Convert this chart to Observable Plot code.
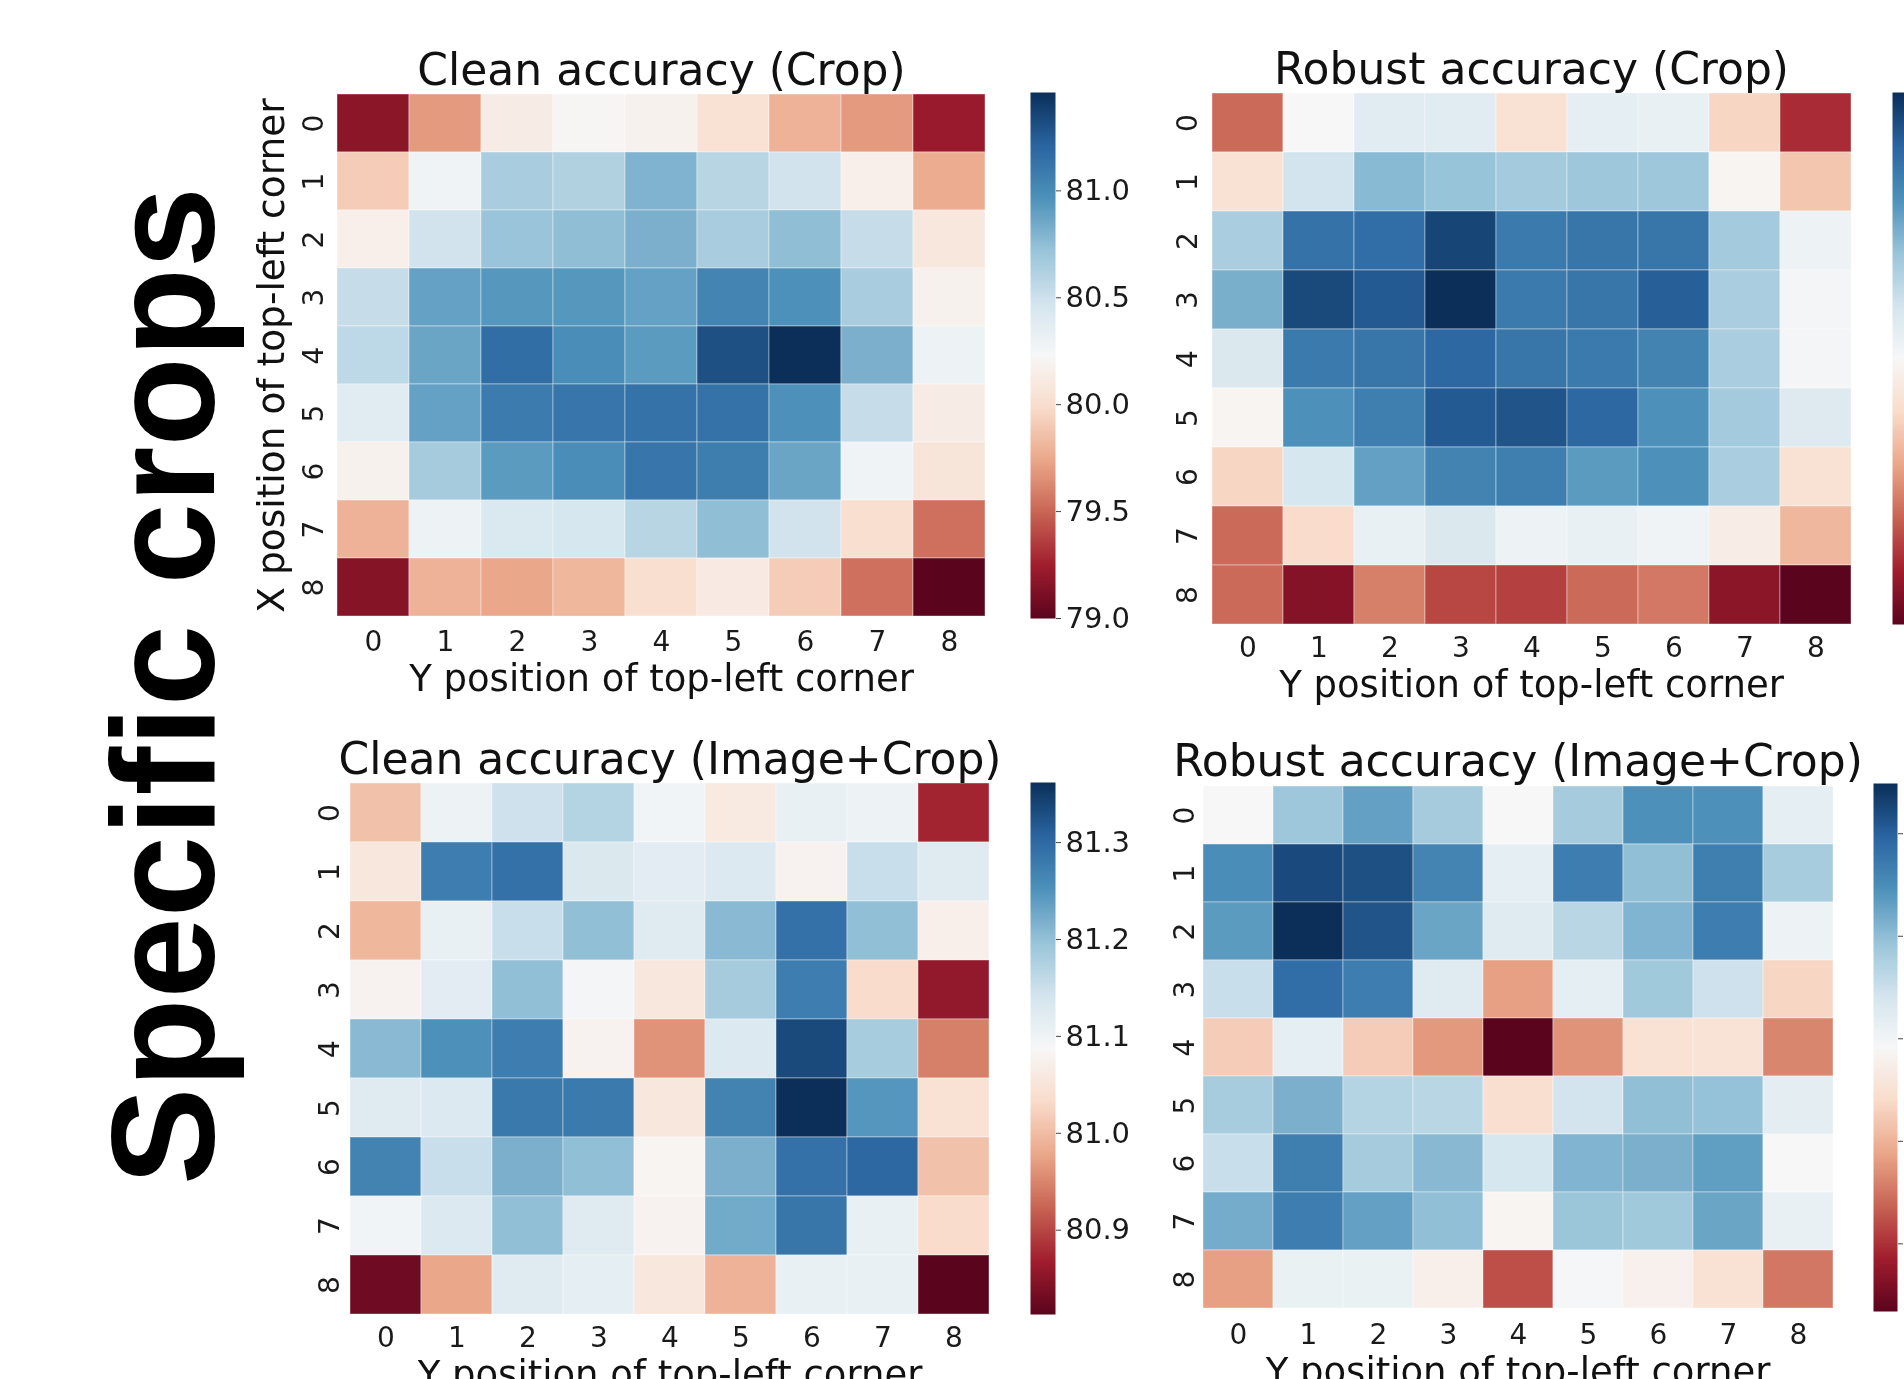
<!DOCTYPE html>
<html>
<head>
<meta charset="utf-8">
<script src="https://cdn.jsdelivr.net/npm/d3@7"></script>
<script src="https://cdn.jsdelivr.net/npm/@observablehq/plot@0.6"></script>
<style>
  body { margin: 0; background: #fff; }
  #fig { position: relative; width: 1904px; height: 1379px; overflow: hidden; background: #fff; }
  #fig > svg { position: absolute; overflow: visible; }
  #fig > svg.tinted { filter: saturate(0.85); }
</style>
</head>
<body>
<div id="fig"></div>
<script>
// ---------------- data ----------------
const positions = [0, 1, 2, 3, 4, 5, 6, 7, 8];
const sideLabel = "Specific crops";
const xLabel = "Y position of top-left corner";
const yLabel = "X position of top-left corner";

// rows = X position (0..8, top to bottom), columns = Y position (0..8, left to right)
const cleanCrop = [
  [79.17, 79.69, 80.13, 80.21, 80.18, 80.03, 79.79, 79.69, 79.22],
  [79.91, 80.28, 80.65, 80.62, 80.80, 80.59, 80.48, 80.16, 79.76],
  [80.16, 80.48, 80.72, 80.75, 80.82, 80.65, 80.75, 80.53, 80.08],
  [80.53, 80.89, 80.94, 80.94, 80.89, 81.04, 80.97, 80.65, 80.18],
  [80.57, 80.87, 81.16, 80.99, 80.92, 81.31, 81.46, 80.82, 80.30],
  [80.38, 80.89, 81.09, 81.12, 81.14, 81.14, 80.97, 80.53, 80.13],
  [80.18, 80.67, 80.92, 80.99, 81.12, 81.07, 80.87, 80.28, 80.06],
  [79.79, 80.30, 80.43, 80.45, 80.59, 80.75, 80.48, 80.01, 79.54],
  [79.15, 79.79, 79.74, 79.81, 80.01, 80.11, 79.91, 79.54, 79.00]
];
const robustCrop = [
  [49.71, 50.00, 50.06, 50.06, 49.92, 50.05, 50.04, 49.89, 49.62],
  [49.92, 50.10, 50.22, 50.20, 50.18, 50.19, 50.19, 49.99, 49.86],
  [50.17, 50.37, 50.38, 50.46, 50.35, 50.36, 50.36, 50.18, 50.03],
  [50.24, 50.45, 50.42, 50.50, 50.35, 50.36, 50.41, 50.17, 50.01],
  [50.08, 50.35, 50.36, 50.39, 50.36, 50.35, 50.33, 50.17, 50.01],
  [49.99, 50.30, 50.34, 50.42, 50.43, 50.39, 50.30, 50.18, 50.07],
  [49.89, 50.09, 50.27, 50.33, 50.34, 50.28, 50.30, 50.17, 49.92],
  [49.71, 49.90, 50.04, 50.08, 50.03, 50.04, 50.02, 49.96, 49.83],
  [49.71, 49.56, 49.74, 49.66, 49.65, 49.71, 49.73, 49.57, 49.50]
];
const cleanImageCrop = [
  [81.005, 81.104, 81.148, 81.170, 81.098, 81.060, 81.109, 81.104, 80.873],
  [81.055, 81.277, 81.291, 81.131, 81.120, 81.129, 81.077, 81.153, 81.123],
  [80.994, 81.109, 81.153, 81.203, 81.123, 81.208, 81.291, 81.203, 81.071],
  [81.077, 81.120, 81.203, 81.093, 81.055, 81.186, 81.277, 81.033, 80.857],
  [81.208, 81.252, 81.277, 81.077, 80.961, 81.129, 81.335, 81.184, 80.945],
  [81.123, 81.129, 81.282, 81.280, 81.055, 81.269, 81.362, 81.247, 81.044],
  [81.269, 81.153, 81.219, 81.203, 81.082, 81.219, 81.291, 81.302, 81.005],
  [81.098, 81.129, 81.203, 81.123, 81.077, 81.225, 81.285, 81.109, 81.033],
  [80.829, 80.978, 81.123, 81.115, 81.055, 80.989, 81.109, 81.109, 80.813]
];
const robustImageCrop = [
  [49.792, 49.889, 49.931, 49.884, 49.792, 49.884, 49.946, 49.946, 49.817],
  [49.951, 50.023, 50.018, 49.961, 49.817, 49.969, 49.900, 49.967, 49.882],
  [49.936, 50.049, 50.013, 49.925, 49.825, 49.866, 49.910, 49.969, 49.807],
  [49.853, 49.987, 49.969, 49.825, 49.683, 49.817, 49.887, 49.848, 49.735],
  [49.725, 49.817, 49.725, 49.678, 49.534, 49.673, 49.750, 49.753, 49.663],
  [49.882, 49.915, 49.869, 49.866, 49.745, 49.843, 49.900, 49.897, 49.820],
  [49.853, 49.967, 49.884, 49.905, 49.838, 49.910, 49.915, 49.933, 49.792],
  [49.918, 49.969, 49.931, 49.900, 49.786, 49.892, 49.887, 49.925, 49.812],
  [49.683, 49.810, 49.810, 49.776, 49.622, 49.794, 49.779, 49.750, 49.652]
];

// colour-bar ranges and ticks
const cleanCropDomain = [79.0, 81.46];
const cleanCropTicks = [79.0, 79.5, 80.0, 80.5, 81.0];
const robustCropDomain = [49.5, 50.5];
const robustCropTicks = [49.6, 49.8, 50.0, 50.2, 50.4];
const cleanImageCropDomain = [80.813, 81.362];
const cleanImageCropTicks = [80.9, 81.0, 81.1, 81.2, 81.3];
const robustImageCropDomain = [49.534, 50.049];
const robustImageCropTicks = [49.6, 49.7, 49.8, 49.9, 50.0];

const titles = [
  "Clean accuracy (Crop)",
  "Robust accuracy (Crop)",
  "Clean accuracy (Image+Crop)",
  "Robust accuracy (Image+Crop)"
];

// matplotlib RdBu stops
const rdbu = ["#67001f", "#b2182b", "#d6604d", "#f4a582", "#fddbc7", "#f7f7f7",
              "#d1e5f0", "#92c5de", "#4393c3", "#2166ac", "#053061"];

// ---------------- drawing ----------------
const fig = document.getElementById("fig");
const FONT = "'DejaVu Sans', 'Bitstream Vera Sans', sans-serif";

function colorScale(domain) {
  const n = rdbu.length - 1;
  const stops = rdbu.map((_, i) => domain[0] + (domain[1] - domain[0]) * i / n);
  return {type: "linear", domain: stops, range: rdbu, interpolate: "rgb"};
}

function heatmap(cfg) {
  const [x0, y0, x1, y1] = cfg.frame;
  const mL = 110, mR = 20, mT = 70, mB = 110;
  const table = cfg.values.flatMap((row, r) => row.map((v, c) => ({row: r, col: c, value: v})));
  const marks = [
    Plot.cell(table, {x: "col", y: "row", fill: "value", inset: 0,
      stroke: "white", strokeWidth: 1, strokeOpacity: 0.4}),
    Plot.axisX(positions, {anchor: "bottom", tickSize: 0, tickPadding: 13, fontSize: 28, label: null, fill: "#1a1a1a"}),
    Plot.text(positions, {y: d => d, text: d => String(d), frameAnchor: "left", dx: -cfg.yTickGap,
      rotate: -90, textAnchor: "middle", lineAnchor: "bottom", fontSize: 28, fill: "#1a1a1a"}),
    Plot.text([cfg.title], {text: d => d, frameAnchor: "top", lineAnchor: "bottom", dy: -cfg.titleGap,
      fontSize: 44, fill: "#111"}),
    Plot.text([xLabel], {text: d => d, frameAnchor: "bottom", lineAnchor: "bottom", dy: 72,
      fontSize: 37, fill: "#111"})
  ];
  if (cfg.yLabel) {
    marks.push(Plot.text([cfg.yLabel], {text: d => d, frameAnchor: "left", rotate: -90,
      textAnchor: "middle", lineAnchor: "bottom", dx: -cfg.yLabelGap, fontSize: 37.5, fill: "#111"}));
  }
  const chart = Plot.plot({
    width: (x1 - x0) + mL + mR,
    height: (y1 - y0) + mT + mB,
    marginLeft: mL, marginRight: mR, marginTop: mT, marginBottom: mB,
    style: {fontFamily: FONT, background: "transparent", color: "#1a1a1a", overflow: "visible"},
    x: {domain: positions, padding: 0, axis: null},
    y: {domain: positions, padding: 0, axis: null},
    color: colorScale(cfg.domain),
    marks
  });
  chart.classList.add("tinted");
  chart.style.left = (x0 - mL) + "px";
  chart.style.top = (y0 - mT) + "px";
  chart.style.maxWidth = "none";
  fig.append(chart);
}

function colorbar(cfg) {
  const [x0, y0, x1, y1] = cfg.bar;
  const mT = 20, mB = 20, mR = 100;
  const chart = Plot.plot({
    width: (x1 - x0) + mR,
    height: (y1 - y0) + mT + mB,
    marginLeft: 0, marginRight: mR, marginTop: mT, marginBottom: mB,
    style: {fontFamily: FONT, background: "transparent", color: "#1a1a1a", overflow: "visible"},
    x: {domain: [0, 1], axis: null},
    y: {domain: cfg.domain, axis: null},
    color: colorScale(cfg.domain),
    marks: [
      Plot.raster({x1: 0, x2: 1, y1: cfg.domain[0], y2: cfg.domain[1], fill: (x, y) => y, pixelSize: 1}),
      Plot.axisY(cfg.ticks, {anchor: "right", tickSize: 5, tickPadding: 5, tickFormat: ".1f",
        fontSize: 29, label: null, stroke: "#444", fill: "#1a1a1a"})
    ]
  });
  chart.classList.add("tinted");
  chart.style.left = x0 + "px";
  chart.style.top = (y0 - mT) + "px";
  chart.style.maxWidth = "none";
  fig.append(chart);
}

// big side label
const side = d3.create("svg")
  .attr("width", 250).attr("height", 1379)
  .style("left", "0px").style("top", "0px");
side.append("text")
  .attr("transform", "translate(214,686) rotate(-90)")
  .attr("text-anchor", "middle")
  .attr("font-family", "'Liberation Sans', Arial, Helvetica, sans-serif")
  .attr("font-weight", "bold")
  .attr("font-size", 146)
  .attr("fill", "#000")
  .text(sideLabel);
fig.append(side.node());

heatmap({values: cleanCrop, domain: cleanCropDomain, frame: [334, 92, 988, 618],
  title: titles[0], titleGap: 8, yTickGap: 12, yLabel: yLabel, yLabelGap: 51});
heatmap({values: robustCrop, domain: robustCropDomain, frame: [1210, 92, 1852, 624],
  title: titles[1], titleGap: 9, yTickGap: 14});
heatmap({values: cleanImageCrop, domain: cleanImageCropDomain, frame: [349, 782, 990, 1314],
  title: titles[2], titleGap: 9, yTickGap: 11});
heatmap({values: robustImageCrop, domain: robustImageCropDomain, frame: [1202, 783, 1833, 1311],
  title: titles[3], titleGap: 8, yTickGap: 9});

colorbar({domain: cleanCropDomain, ticks: cleanCropTicks, bar: [1030, 92, 1055, 618]});
colorbar({domain: robustCropDomain, ticks: robustCropTicks, bar: [1892, 92, 1916, 624]});
colorbar({domain: cleanImageCropDomain, ticks: cleanImageCropTicks, bar: [1030, 782, 1055, 1314]});
colorbar({domain: robustImageCropDomain, ticks: robustImageCropTicks, bar: [1873, 783, 1897, 1311]});
</script>
</body>
</html>
